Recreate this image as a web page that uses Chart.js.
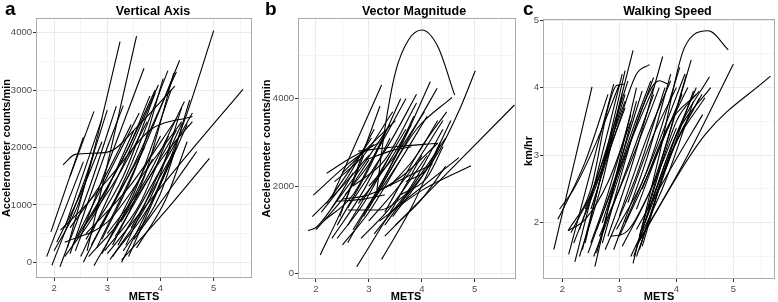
<!DOCTYPE html>
<html>
<head>
<meta charset="utf-8">
<script src="https://cdn.jsdelivr.net/npm/chart.js@4.4.0/dist/chart.umd.min.js"></script>
<style>
  body { margin: 0; background: #fff; }
  canvas { position: absolute; top: 0; }
</style>
</head>
<body>
<canvas id="va" width="260" height="302" style="left:0px"></canvas>
<canvas id="vm" width="258" height="302" style="left:260px"></canvas>
<canvas id="ws" width="260" height="302" style="left:518px"></canvas>
<script>
// one entry per participant: points [METS, value]
const vertAxisLines = [
  [[1.86,100],[2.55,1750]],
  [[1.94,530],[2.55,2180]],
  [[1.96,-50],[2.6,1500],[3.0,2650]],
  [[2.11,-80],[2.7,1400],[3.17,2720]],
  [[2.25,250],[2.75,1950],[3.24,3843]],
  [[2.62,200],[3.05,1900],[3.55,3942]],
  [[2.2,600],[2.9,2500]],
  [[2.3,150],[3.0,2000],[3.3,2730]],
  [[2.12,560],[2.6,1000],[3.2,1650],[3.8,2300],[4.6,2540]],
  [[2.17,1700],[2.4,1880],[3.0,1920],[3.6,2400],[4.27,3070]],
  [[2.4,200],[3.69,3380]],
  [[2.5,100],[3.3,1700],[3.96,3090]],
  [[2.55,0],[3.4,1600],[4.14,3340]],
  [[2.7,300],[3.5,1700],[4.3,3320]],
  [[2.8,250],[3.6,1800],[4.36,3520]],
  [[2.75,-60],[3.5,1200],[4.2,3000]],
  [[2.9,150],[4.0,2200]],
  [[2.45,450],[3.4,2000],[3.8,2900]],
  [[2.35,300],[3.6,2600]],
  [[2.6,400],[3.3,1500],[3.9,2950]],
  [[2.2,100],[2.8,900],[3.5,2300]],
  [[2.3,600],[2.9,1400],[3.45,2400]],
  [[3.27,0],[4.0,1400],[4.5,2600],[5.0,4035]],
  [[3.27,40],[4.1,900],[4.92,1812]],
  [[3.0,150],[4.3,1640],[5.55,3014]],
  [[3.5,400],[4.2,1300],[4.68,1930]],
  [[3.3,200],[4.0,1200],[4.55,2830]],
  [[3.35,300],[4.4,2420]],
  [[3.4,100],[4.5,2400]],
  [[3.2,300],[4.6,2600]],
  [[3.1,100],[3.9,1300],[4.4,2700]],
  [[3.45,600],[4.3,2000]],
  [[3.0,500],[3.7,1400],[4.45,2800]],
  [[3.15,450],[4.3,2300]],
  [[2.95,200],[3.6,1000],[4.15,2200]],
  [[3.25,700],[4.1,1900],[4.6,2450]],
  [[2.6,500],[3.4,1300],[4.3,2500]],
  [[2.2,350],[3.0,700],[3.8,1700],[4.4,2450]],
  [[2.05,350],[2.5,1200],[2.9,2100]],
  [[2.0,200],[2.45,1000],[2.75,1900]],
  [[2.3,1500],[2.75,2630]],
  [[2.85,600],[3.7,2000]],
  [[3.05,50],[3.8,1000],[4.3,2000]],
  [[2.65,100],[3.3,800],[3.85,1800]],
  [[2.55,600],[3.2,1500],[3.75,2450]],
  [[3.55,250],[4.1,1100],[4.5,2100]],
  [[2.9,400],[3.6,1800],[4.05,3200]],
  [[3.1,300],[3.7,1500],[4.25,3300]],
  [[2.7,800],[3.4,2000],[3.9,3000]]
];

const vecMagLines = [
  [[1.85,980],[2.0,1050],[2.3,1500],[2.7,2300]],
  [[1.95,1790],[2.6,2500],[3.1,2950]],
  [[1.93,1300],[2.5,2000],[3.0,2700]],
  [[2.08,420],[2.5,1500],[2.9,2700]],
  [[2.3,1750],[3.24,4313]],
  [[2.45,1300],[3.21,3833]],
  [[2.2,2290],[2.6,2600],[3.2,3000]],
  [[2.5,1700],[3.0,1800],[3.6,2200],[4.3,2980]],
  [[3.15,1900],[3.3,3300],[3.5,4600],[3.75,5350],[4.0,5574],[4.3,5200],[4.62,4083]],
  [[3.6,1600],[4.3,2750],[4.73,3800],[5.01,4640]],
  [[3.3,850],[5.75,3856]],
  [[3.2,1200],[4.0,1900],[4.93,2465]],
  [[3.4,1400],[4.7,2650]],
  [[2.77,150],[3.5,1600],[4.0,2700]],
  [[3.24,320],[3.8,1500],[4.35,2950]],
  [[2.6,700],[3.6,2900],[4.16,4390]],
  [[2.9,1300],[3.8,3200],[4.29,4240]],
  [[3.0,1500],[3.9,3300],[4.57,4030]],
  [[3.3,1400],[4.0,2900],[4.47,3700]],
  [[2.8,2800],[3.5,2900],[4.3,2980]],
  [[2.6,1500],[3.4,3000],[3.9,4100]],
  [[2.7,1000],[3.3,2200],[3.85,3600]],
  [[2.4,1100],[3.0,2400],[3.6,4000]],
  [[2.55,1800],[3.0,2500],[3.7,4000]],
  [[2.3,1500],[2.9,2500],[3.4,3400]],
  [[2.15,1200],[2.7,1800],[3.3,3200]],
  [[2.0,1000],[2.5,1700],[3.0,2600]],
  [[2.4,800],[2.9,1600],[3.4,2700]],
  [[2.5,650],[3.0,1400],[3.6,2600]],
  [[2.85,800],[3.4,1500],[4.1,2700]],
  [[3.0,1200],[3.7,2200],[4.4,3500]],
  [[3.1,900],[3.8,2000],[4.4,3300]],
  [[3.3,1100],[4.0,2300],[4.45,3100]],
  [[3.45,1300],[4.1,2400],[4.55,3500]],
  [[2.4,1650],[2.9,1700],[3.3,1800]],
  [[2.6,1450],[3.2,1450],[3.8,1900]],
  [[3.2,1900],[3.7,2200],[4.2,2500]],
  [[3.6,1800],[4.1,2200],[4.4,2900]],
  [[2.2,1600],[2.6,2300],[3.05,3100]],
  [[2.7,2000],[3.3,2600],[3.9,3900]],
  [[3.0,2000],[3.5,2700],[4.05,3700]],
  [[2.35,2100],[2.9,2700],[3.45,3700]],
  [[3.7,2100],[4.1,2400],[4.35,3000]],
  [[3.5,1100],[4.0,1700],[4.45,2450]],
  [[2.95,2600],[3.4,2800],[3.8,2900]],
  [[2.3,800],[2.9,1900],[3.4,3100]],
  [[2.6,1100],[3.2,2300],[3.7,3300]],
  [[2.8,1600],[3.3,2400],[3.8,3400]],
  [[3.1,1700],[3.6,2600],[4.1,3600]],
  [[2.5,2300],[3.0,2900],[3.5,3500]],
  [[3.4,2000],[3.9,2700],[4.3,3500]],
  [[2.1,1400],[2.6,2200],[3.1,3300]]
];

const walkSpeedLines = [
  [[1.85,1.6],[2.52,4.01]],
  [[1.92,2.05],[2.1,2.35],[2.4,2.9],[2.8,3.9]],
  [[1.95,2.2],[2.2,2.5],[2.6,3.2],[3.0,4.05]],
  [[2.11,1.53],[2.9,4.05]],
  [[2.1,1.88],[2.5,2.5],[2.8,3.7],[2.95,4.03],[3.1,4.05]],
  [[2.22,1.42],[3.05,4.2]],
  [[2.35,1.6],[3.24,4.55]],
  [[2.4,1.7],[3.1,4.25]],
  [[2.57,1.35],[3.3,4.0]],
  [[2.5,2.2],[3.0,3.5],[3.3,4.2],[3.53,4.34]],
  [[2.6,1.55],[3.3,3.8]],
  [[2.7,1.7],[3.4,3.7],[3.7,4.1],[3.85,4.05]],
  [[2.8,1.8],[3.2,2.8],[3.76,4.46]],
  [[2.9,1.6],[3.5,3.0],[3.9,4.2]],
  [[2.75,1.6],[3.3,2.7],[3.8,4.0]],
  [[2.95,1.9],[3.45,2.7],[4.06,4.3]],
  [[3.24,1.4],[3.7,3.0],[4.1,4.5],[4.3,4.78],[4.56,4.84],[4.91,4.56]],
  [[3.3,1.5],[4.0,3.2],[4.45,3.9]],
  [[3.25,1.5],[4.0,3.3],[4.6,4.0]],
  [[3.35,1.6],[3.9,3.0],[4.4,3.84]],
  [[3.4,1.65],[4.0,3.3],[4.58,4.16]],
  [[3.35,1.8],[4.26,4.41]],
  [[3.3,1.9],[3.9,2.8],[4.46,3.6]],
  [[3.3,1.65],[4.2,3.0],[5.0,4.35]],
  [[3.35,1.75],[4.5,3.3],[5.65,4.17]],
  [[3.2,1.5],[3.8,2.6],[4.3,3.8]],
  [[3.0,1.8],[3.6,2.9],[4.1,3.9]],
  [[2.85,1.8],[3.1,1.85],[3.5,2.4],[4.0,3.4]],
  [[2.55,1.5],[3.0,2.5],[3.6,3.9]],
  [[2.45,1.55],[2.9,2.6],[3.4,3.95]],
  [[2.2,1.7],[2.7,2.8],[3.1,3.9]],
  [[2.15,1.85],[2.6,2.6],[3.1,3.7]],
  [[2.3,1.9],[2.7,2.9],[3.15,4.1]],
  [[2.1,1.88],[2.4,2.05],[2.8,2.6],[3.2,3.5]],
  [[2.6,1.9],[3.1,3.0],[3.6,4.15]],
  [[2.7,2.0],[3.2,3.3],[3.55,4.1]],
  [[2.4,2.2],[2.8,3.1],[3.1,3.8]],
  [[2.5,1.7],[2.75,2.3],[3.2,3.6]],
  [[3.0,2.1],[3.5,3.3],[3.9,4.1]],
  [[3.1,2.0],[3.6,3.0],[4.15,4.2]],
  [[3.15,2.3],[3.6,3.3],[4.0,4.0]],
  [[3.45,2.0],[3.9,3.0],[4.3,3.95]],
  [[3.5,2.2],[4.0,3.5],[4.4,3.95]],
  [[3.3,2.2],[3.8,3.3],[4.2,4.0]],
  [[3.4,2.5],[3.9,3.5],[4.35,3.9]],
  [[3.6,2.4],[4.0,3.2],[4.5,3.85]],
  [[3.05,1.65],[3.6,2.6],[4.18,4.2]],
  [[2.65,1.8],[3.2,2.9],[3.7,4.0]],
  [[2.3,1.5],[2.7,2.6],[3.05,3.9]],
  [[3.4,1.9],[3.9,3.1],[4.35,4.0]],
  [[2.8,2.2],[3.2,3.2],[3.6,4.0]]
];

const metsMajor = [2, 3, 4, 5];
const metsMinor = [2.5, 3.5, 4.5, 5.5];
const vertAxisMajor = [0, 1000, 2000, 3000, 4000];
const vertAxisMinor = [500, 1500, 2500, 3500];
const vecMagMajor = [0, 2000, 4000];
const vecMagMinor = [1000, 3000, 5000];
const walkSpeedMajor = [2, 3, 4, 5];
const walkSpeedMinor = [1.5, 2.5, 3.5, 4.5];

const FONT = '"Liberation Sans", Arial, Helvetica, sans-serif';

const panelText = {
  id: 'panelText',
  afterDraw(chart, args, o) {
    const ctx = chart.ctx;
    const a = chart.chartArea;
    ctx.save();
    ctx.strokeStyle = '#ababab';
    ctx.lineWidth = 1;
    ctx.strokeRect(Math.round(a.left) + 0.5, Math.round(a.top) + 0.5,
      Math.round(a.right - a.left) - 1, Math.round(a.bottom - a.top) - 1);

    ctx.fillStyle = '#000';
    ctx.textBaseline = 'alphabetic';
    ctx.textAlign = 'left';
    ctx.font = 'bold 19px ' + FONT;
    ctx.fillText(o.letter, 5, 15);

    ctx.textAlign = 'center';
    ctx.font = 'bold 12.5px ' + FONT;
    ctx.fillText(o.title, o.titleX, 15);

    ctx.font = 'bold 11px ' + FONT;
    ctx.fillText('METS', o.xTitleX, 300);

    ctx.translate(o.yTitleX, o.yTitleY);
    ctx.rotate(-Math.PI / 2);
    ctx.textBaseline = 'middle';
    ctx.fillText(o.yTitle, 0, 0);
    ctx.restore();
  }
};

function scaleOpts(min, max, major, minor, fitSize, isX, pad) {
  const all = major.concat(minor);
  const isMajor = c => c.tick && major.includes(c.tick.value);
  return {
    type: 'linear',
    min: min,
    max: max,
    afterBuildTicks: s => { s.ticks = all.filter(v => v >= min && v <= max).sort((p, q) => p - q).map(v => ({ value: v })); },
    afterFit: s => { if (isX) s.height = fitSize; else s.width = fitSize; },
    border: { display: false },
    grid: {
      color: c => isMajor(c) ? '#ebebeb' : '#f4f4f4',
      tickColor: c => isMajor(c) ? '#333333' : 'rgba(0,0,0,0)',
      tickLength: 3,
      lineWidth: 1
    },
    ticks: {
      autoSkip: false,
      maxRotation: 0,
      padding: pad,
      color: '#4d4d4d',
      font: { family: FONT, size: 9.5 },
      callback: v => major.includes(v) ? String(v) : ''
    }
  };
}

function drawPanel(id, lines, p) {
  const canvas = document.getElementById(id);
  const datasets = lines.map(line => ({
    data: line.map(pt => ({ x: pt[0], y: pt[1] })),
    showLine: true,
    borderColor: '#000000',
    borderWidth: 1.1,
    pointRadius: 0,
    cubicInterpolationMode: 'monotone',
    fill: false
  }));
  new Chart(canvas, {
    type: 'scatter',
    data: { datasets },
    options: {
      responsive: false,
      animation: false,
      layout: { padding: { left: 0, right: canvas.width - p.right, top: p.top, bottom: 0 } },
      scales: {
        x: scaleOpts(1.66, p.xMax, metsMajor, metsMinor, 302 - p.bottom, true, 2),
        y: scaleOpts(p.yMin, p.yMax, p.yMajor, p.yMinor, p.left, false, 1)
      },
      plugins: {
        legend: { display: false },
        tooltip: { enabled: false },
        panelText: p.text
      }
    },
    plugins: [panelText]
  });
}

drawPanel('va', vertAxisLines, {
  left: 36, right: 252, top: 18, bottom: 278, xMax: 5.72,
  yMin: -273, yMax: 4256, yMajor: vertAxisMajor, yMinor: vertAxisMinor,
  text: { letter: 'a', title: 'Vertical Axis', titleX: 153, xTitleX: 144,
    yTitle: 'Accelerometer counts/min', yTitleX: 6.5, yTitleY: 148 }
});

drawPanel('vm', vecMagLines, {
  left: 38, right: 256, top: 18, bottom: 279, xMax: 5.78,
  yMin: -130, yMax: 5849, yMajor: vecMagMajor, yMinor: vecMagMinor,
  text: { letter: 'b', title: 'Vector Magnitude', titleX: 154, xTitleX: 146,
    yTitle: 'Accelerometer counts/min', yTitleX: 7, yTitleY: 148.5 }
});

drawPanel('ws', walkSpeedLines, {
  left: 25, right: 257, top: 19, bottom: 279, xMax: 5.73,
  yMin: 1.167, yMax: 5.015, yMajor: walkSpeedMajor, yMinor: walkSpeedMinor,
  text: { letter: 'c', title: 'Walking Speed', titleX: 149.5, xTitleX: 141,
    yTitle: 'km/hr', yTitleX: 10.5, yTitleY: 151 }
});
</script>
</body>
</html>
